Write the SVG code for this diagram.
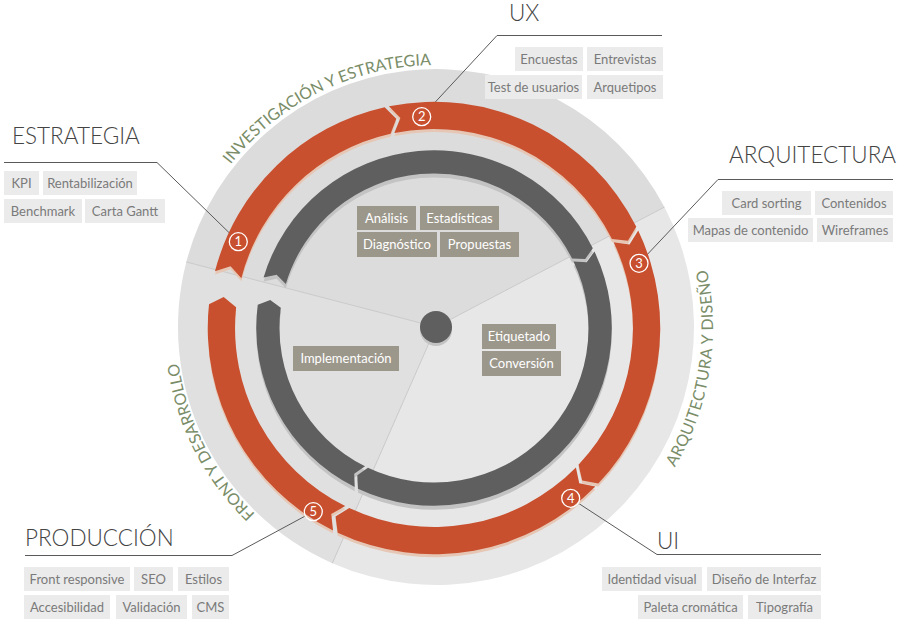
<svg xmlns="http://www.w3.org/2000/svg" xmlns:xlink="http://www.w3.org/1999/xlink" width="915" height="625" viewBox="0 0 915 625">
<style>
text{font-family:Lato,"Liberation Sans",sans-serif}
.title{font-size:22.5px;font-weight:300;fill:#444}
.tag rect{fill:#ebebeb}
.tag text{font-size:13px;fill:#7a7a7a;text-anchor:middle}
.itag rect{fill:#9c978b}
.itag text{font-size:13px;fill:#fff;text-anchor:middle}
.lead{fill:none;stroke:#5a5a5a;stroke-width:1}
.num circle{fill:none;stroke:#fff;stroke-width:1.3}
.num text{font-size:13px;fill:#fff;text-anchor:middle}
.arclabel{font-size:16px;fill:#7a8d68}
.sep{stroke:#c9c9c9;stroke-width:1}
</style>
<defs>
<path id="o1" d="M219.13,270.91 L234.59,265.81 L245.27,277.68 A197,197 0 0 1 393.03,134.74 L398.72,119.83 L387.14,108.39 A224,224 0 0 0 219.13,270.91 Z"/>
<path id="o2" d="M391.34,107.5 L402.71,119.15 L396.72,133.96 A197,197 0 0 1 612.15,238.79 L628,240.71 L636.29,226.7 A224,224 0 0 0 391.34,107.5 Z"/>
<path id="o3" d="M638.18,230.57 L629.62,244.41 L613.81,242.19 A197,197 0 0 1 579.09,462.4 L582.75,477.91 L598.71,480.96 A224,224 0 0 0 638.18,230.57 Z"/>
<path id="o4" d="M595.77,484 L579.79,480.73 L576.51,465.08 A197,197 0 0 1 352.12,505.25 L338.48,513.55 L340.63,529.68 A224,224 0 0 0 595.77,484 Z"/>
<path id="o5" d="M336.05,527.46 L334.27,511.28 L348.1,503.3 A197,197 0 0 1 240.08,306.41 L227.76,296.25 L213.23,303.59 A224,224 0 0 0 336.05,527.46 Z"/>
<path id="d1" d="M267.25,277.01 L280.18,274.25 L289.3,283.54 A153,153 0 0 1 572.69,258.25 L585.69,258.78 L593.23,247.92 A176,176 0 0 0 267.25,277.01 Z"/>
<path id="d2" d="M594.86,251.23 L587.09,261.93 L574.1,261.13 A153,153 0 0 1 370.61,465.32 L360.04,472.91 L360.78,486.12 A176,176 0 0 0 594.86,251.23 Z"/>
<path id="d3" d="M357.47,484.51 L357,471.29 L367.73,463.92 A153,153 0 0 1 284.31,307.03 L273.85,299.28 L261.51,304.03 A176,176 0 0 0 357.47,484.51 Z"/>
<path id="tp-top" d="M209.1,196 A262,262 0 0 1 481.5,68.98"/>
<path id="tp-right" d="M662.9,485.88 A277,277 0 0 0 703.56,255.31"/>
<path id="tp-left" d="M286.87,539.98 A260,260 0 0 1 176.99,349.66"/>
</defs>

<g id="disk">
<path d="M436,327 L186.33,261.97 A258,258 0 0 1 664.43,207.07 Z" fill="#dcdcdc"/>
<path d="M436,327 L664.43,207.07 A258,258 0 0 1 332.3,563.24 Z" fill="#e7e7e7"/>
<path d="M436,327 L332.3,563.24 A258,258 0 0 1 186.33,261.97 Z" fill="#e0e0e0"/>
<line class="sep" x1="436" y1="327" x2="186.33" y2="261.97"/>
<line class="sep" x1="436" y1="327" x2="664.43" y2="207.07"/>
<line class="sep" x1="436" y1="327" x2="332.3" y2="563.24"/>
</g>

<g id="sector-labels">
<text class="arclabel"><textPath xlink:href="#tp-top" href="#tp-top" startOffset="38">INVESTIGACIÓN Y ESTRATEGIA</textPath></text>
<text class="arclabel" letter-spacing="0.4"><textPath xlink:href="#tp-right" href="#tp-right" startOffset="22">ARQUITECTURA Y DISEÑO</textPath></text>
<text class="arclabel"><textPath xlink:href="#tp-left" href="#tp-left" startOffset="41">FRONT Y DESARROLLO</textPath></text>
</g>

<g id="inner-cycle">
<g transform="translate(434,328) scale(1.01) translate(-436,-327)">
<use href="#d1" xlink:href="#d1" fill="#c3c3c3" transform="translate(0,4)"/>
<use href="#d2" xlink:href="#d2" fill="#c3c3c3" transform="translate(0,4)"/>
<use href="#d3" xlink:href="#d3" fill="#c3c3c3" transform="translate(0,4)"/>
<use href="#d1" xlink:href="#d1" fill="#5f5f5f"/>
<use href="#d2" xlink:href="#d2" fill="#5f5f5f"/>
<use href="#d3" xlink:href="#d3" fill="#5f5f5f"/>
</g>
<circle cx="436" cy="330" r="16" fill="#c3c3c3"/>
<circle cx="436" cy="327" r="16" fill="#5f5f5f"/>
</g>

<g id="connectors">
<polyline class="lead" points="4,162.5 157,162.5 231.7,235.2"/>
<polyline class="lead" points="662,35.5 497,35.5 428,109.9"/>
<polyline class="lead" points="893,179.5 718,179.5 645.4,256.5"/>
<polyline class="lead" points="821,554.5 657,554.5 578.5,503.3"/>
<polyline class="lead" points="25,555.5 232,555.5 305.1,516.1"/>
</g>

<g id="stage-1">
<g transform="translate(434,328) scale(1.01) translate(-436,-327)">
<use href="#o1" xlink:href="#o1" fill="#e6c7b5" transform="translate(0,3)"/>
<use href="#o1" xlink:href="#o1" fill="#c9502f"/>
</g>
<g class="num"><circle cx="238.3" cy="241.7" r="9"/><text x="238.3" y="246.3">1</text></g>
<text class="title" x="12" y="143.5">ESTRATEGIA</text>
<g class="tag"><rect x="4" y="171" width="35" height="24"/><text x="21.5" y="187.5">KPI</text></g>
<g class="tag"><rect x="43" y="171" width="94" height="24"/><text x="90" y="187.5">Rentabilización</text></g>
<g class="tag"><rect x="4" y="199" width="78" height="24"/><text x="43" y="215.5">Benchmark</text></g>
<g class="tag"><rect x="85" y="199" width="80" height="24"/><text x="125" y="215.5">Carta Gantt</text></g>
</g>

<g id="stage-2">
<g transform="translate(434,328) scale(1.01) translate(-436,-327)">
<use href="#o2" xlink:href="#o2" fill="#e6c7b5" transform="translate(0,3)"/>
<use href="#o2" xlink:href="#o2" fill="#c9502f"/>
</g>
<g class="num"><circle cx="421.7" cy="116.7" r="9"/><text x="421.7" y="121.3">2</text></g>
<text class="title" x="509" y="20.5">UX</text>
<g class="tag"><rect x="515" y="47" width="68" height="24"/><text x="549" y="63.5">Encuestas</text></g>
<g class="tag"><rect x="587" y="47" width="76" height="24"/><text x="625" y="63.5">Entrevistas</text></g>
<g class="tag"><rect x="485" y="75" width="97" height="24"/><text x="533.5" y="91.5">Test de usuarios</text></g>
<g class="tag"><rect x="587" y="75" width="76" height="24"/><text x="625" y="91.5">Arquetipos</text></g>
</g>

<g id="stage-3">
<g transform="translate(434,328) scale(1.01) translate(-436,-327)">
<use href="#o3" xlink:href="#o3" fill="#e6c7b5" transform="translate(0,3)"/>
<use href="#o3" xlink:href="#o3" fill="#c9502f"/>
</g>
<g class="num"><circle cx="639" cy="263.3" r="9"/><text x="639" y="267.9">3</text></g>
<text class="title" x="729" y="163">ARQUITECTURA</text>
<g class="tag"><rect x="722" y="191" width="89" height="24"/><text x="766.5" y="207.5">Card sorting</text></g>
<g class="tag"><rect x="815" y="191" width="78" height="24"/><text x="854" y="207.5">Contenidos</text></g>
<g class="tag"><rect x="688" y="218" width="125" height="24"/><text x="750.5" y="234.5">Mapas de contenido</text></g>
<g class="tag"><rect x="817" y="218" width="76" height="24"/><text x="855" y="234.5">Wireframes</text></g>
</g>

<g id="stage-4">
<g transform="translate(434,328) scale(1.01) translate(-436,-327)">
<use href="#o4" xlink:href="#o4" fill="#e6c7b5" transform="translate(0,3)"/>
<use href="#o4" xlink:href="#o4" fill="#c9502f"/>
</g>
<g class="num"><circle cx="570.7" cy="498.3" r="9"/><text x="570.7" y="502.9">4</text></g>
<text class="title" x="657" y="548.5">UI</text>
<g class="tag"><rect x="602" y="567" width="100" height="24"/><text x="652" y="583.5">Identidad visual</text></g>
<g class="tag"><rect x="707" y="567" width="114" height="24"/><text x="764" y="583.5">Diseño de Interfaz</text></g>
<g class="tag"><rect x="638" y="595" width="105" height="24"/><text x="690.5" y="611.5">Paleta cromática</text></g>
<g class="tag"><rect x="748" y="595" width="73" height="24"/><text x="784.5" y="611.5">Tipografía</text></g>
</g>

<g id="stage-5">
<g transform="translate(434,328) scale(1.01) translate(-436,-327)">
<use href="#o5" xlink:href="#o5" fill="#e6c7b5" transform="translate(0,3)"/>
<use href="#o5" xlink:href="#o5" fill="#c9502f"/>
</g>
<g class="num"><circle cx="313.3" cy="511.7" r="9"/><text x="313.3" y="516.3">5</text></g>
<text class="title" x="25" y="546">PRODUCCIÓN</text>
<g class="tag"><rect x="24" y="567" width="106" height="24"/><text x="77" y="583.5">Front responsive</text></g>
<g class="tag"><rect x="134" y="567" width="39" height="24"/><text x="153.5" y="583.5">SEO</text></g>
<g class="tag"><rect x="178" y="567" width="51" height="24"/><text x="203.5" y="583.5">Estilos</text></g>
<g class="tag"><rect x="24" y="595" width="86" height="24"/><text x="67" y="611.5">Accesibilidad</text></g>
<g class="tag"><rect x="116" y="595" width="71" height="24"/><text x="151.5" y="611.5">Validación</text></g>
<g class="tag"><rect x="192" y="595" width="37" height="24"/><text x="210.5" y="611.5">CMS</text></g>
</g>

<g id="inner-tags">
<g class="itag"><rect x="357" y="206" width="59" height="24"/><text x="386.5" y="222.5">Análisis</text></g>
<g class="itag"><rect x="420" y="206" width="79" height="24"/><text x="459.5" y="222.5">Estadísticas</text></g>
<g class="itag"><rect x="357" y="232" width="80" height="25"/><text x="397" y="249">Diagnóstico</text></g>
<g class="itag"><rect x="440" y="232" width="79" height="25"/><text x="479.5" y="249">Propuestas</text></g>
<g class="itag"><rect x="293" y="346" width="106" height="25"/><text x="346" y="363">Implementación</text></g>
<g class="itag"><rect x="482" y="324" width="74" height="25"/><text x="519" y="341">Etiquetado</text></g>
<g class="itag"><rect x="482" y="351" width="79" height="25"/><text x="521.5" y="368">Conversión</text></g>
</g>
</svg>
